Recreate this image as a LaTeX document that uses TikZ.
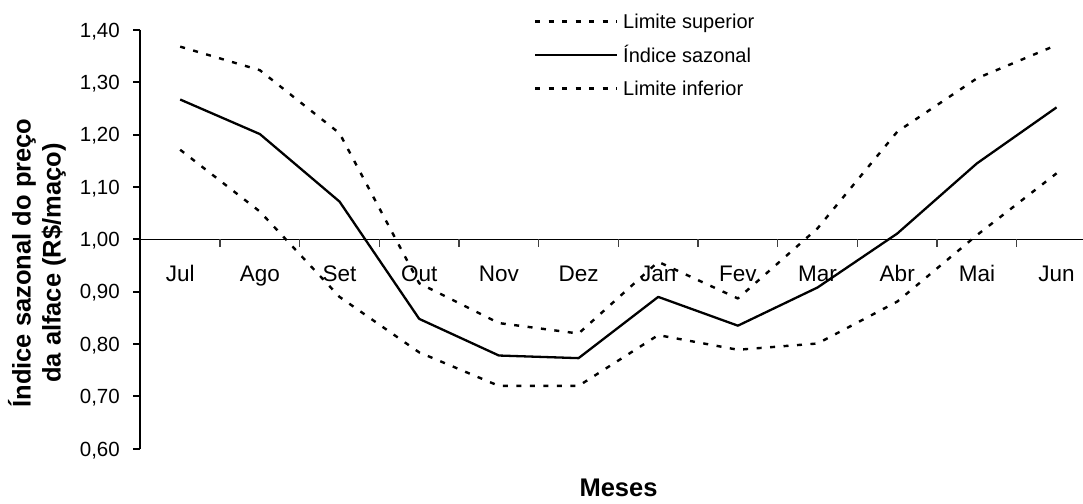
\documentclass[tikz,border=0pt]{standalone}
\usepackage{fontspec}
\setmainfont{Liberation Sans}
\begin{document}
\begin{tikzpicture}[
  solidline/.style={line width=2.3pt, line join=round},
  dashline/.style={line width=2.4pt, dash pattern=on 5pt off 8.5pt, line join=round},
  axisline/.style={line width=2.4pt},
  baseline0/.style={line width=1.3pt},
  ticklab/.style={font=\fontsize{20.5}{24}\selectfont, anchor=base east, inner sep=0pt},
  monthlab/.style={font=\fontsize{22.5}{26}\selectfont, anchor=base, inner sep=0pt},
  legtext/.style={font=\fontsize{20}{24}\selectfont, anchor=base west, inner sep=0pt},
  titlelab/.style={font=\fontsize{25.5}{30}\selectfont\bfseries, inner sep=0pt}
]
\useasboundingbox (0pt,0pt) rectangle (1083pt,-503pt);
\fill[white] (0pt,0pt) rectangle (1083pt,-503pt);

% y axis
\coordinate (ytop) at (140pt,-30pt);
\coordinate (ybot) at (140pt,-449.3pt);
\draw[axisline] (ytop) -- (ybot);
\foreach \v/\lab [count=\k] in {0.6/{0,60},0.7/{0,70},0.8/{0,80},0.9/{0,90},1.0/{1,00},1.1/{1,10},1.2/{1,20},1.3/{1,30},1.4/{1,40}}{
  \pgfmathsetmacro{\yy}{-(239.3-(\v-1)*523.5)}
  \coordinate (yt\k) at (140pt,\yy pt);
  \coordinate (ytl\k) at (133pt,\yy pt);
  \draw[line width=2pt] (ytl\k) -- (yt\k);
  \node[ticklab] (ylab\k) at (120pt,\yy pt-7.3pt) {\lab};
}

% horizontal line at 1,00
\coordinate (h0) at (140pt,-239.3pt);
\coordinate (h1) at (1083pt,-239.3pt);
\draw[baseline0] (h0) -- (h1);
\foreach \k in {1,...,11}{
  \pgfmathsetmacro{\xx}{140.3+79.67*\k}
  \coordinate (bt\k) at (\xx pt,-239.3pt);
  \coordinate (bb\k) at (\xx pt,-247pt);
  \draw[line width=1.1pt, black!75] (bt\k) -- (bb\k);
}

% month labels
\foreach \m [count=\i from 0] in {Jul,Ago,Set,Out,Nov,Dez,Jan,Fev,Mar,Abr,Mai,Jun}{
  \pgfmathsetmacro{\xx}{180.2+79.67*\i}
  \node[monthlab] (m\i) at (\xx pt,-281.7pt) {\m};
}

% data
\begin{scope}[shift={(180.2pt,-239.3pt)}, x=79.67pt, y=523.5pt]
\foreach \v [count=\i from 0] in {1.267,1.201,1.072,0.848,0.778,0.773,0.890,0.835,0.908,1.011,1.145,1.252}
  \coordinate (s\i) at (\i,\v-1);
\foreach \v [count=\i from 0] in {1.368,1.323,1.2025,0.916,0.840,0.820,0.957,0.887,1.021,1.2055,1.3075,1.371}
  \coordinate (u\i) at (\i,\v-1);
\foreach \v [count=\i from 0] in {1.171,1.053,0.890,0.784,0.720,0.720,0.817,0.789,0.801,0.881,1.008,1.126}
  \coordinate (l\i) at (\i,\v-1);
\end{scope}
\draw[dashline] (u0) \foreach \i in {1,...,11}{ -- (u\i)};
\draw[solidline] (s0) \foreach \i in {1,...,11}{ -- (s\i)};
\draw[dashline] (l0) \foreach \i in {1,...,11}{ -- (l\i)};

% legend
\coordinate (la1) at (535pt,-21.7pt); \coordinate (lb1) at (617pt,-21.7pt);
\coordinate (la2) at (535pt,-55pt);   \coordinate (lb2) at (617pt,-55pt);
\coordinate (la3) at (535pt,-88.3pt); \coordinate (lb3) at (617pt,-88.3pt);
\draw[dashline] (la1) -- (lb1);
\draw[solidline] (la2) -- (lb2);
\draw[dashline] (la3) -- (lb3);
\node[legtext] (lt1) at (623pt,-28.9pt) {Limite superior};
\node[legtext] (lt2) at (623pt,-62.2pt) {Índice sazonal};
\node[legtext] (lt3) at (623pt,-95.5pt) {Limite inferior};

% titles
\node[titlelab, anchor=base] (xtitle) at (618.5pt,-496pt) {Meses};
\node[titlelab, rotate=90, align=center] (ytitle) at (37pt,-263pt) {Índice sazonal do preço\\da alface (R\$/maço)};
\end{tikzpicture}
\end{document}
